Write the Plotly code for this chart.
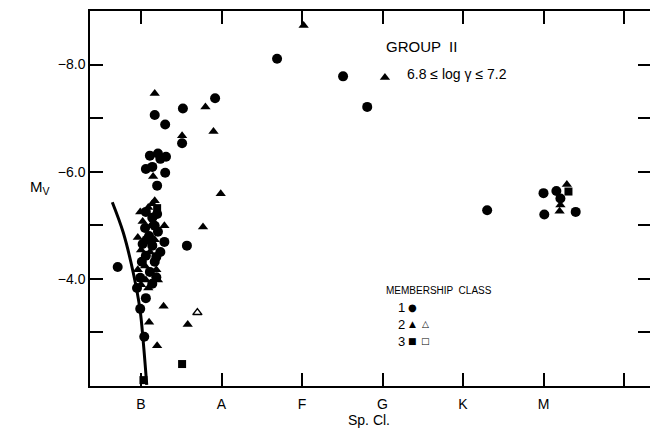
import plotly.graph_objects as go

# Spectral class positions on the x axis
classes = ["B", "A", "F", "G", "K", "M"]
class_pos = [1, 2, 3, 4, 5, 6]
extra_x_tick = [7]

# Membership class 1 (filled circles)
c1_x = [2.69, 3.51, 3.81, 1.92, 1.52, 1.17, 1.30, 1.51, 1.11, 1.21, 1.24, 1.31, 1.06, 1.14,
        1.30, 1.20, 1.29, 1.57, 0.71, 1.19, 1.19, 0.95, 1.06, 0.99, 1.04, 5.30, 6.00, 6.16,
        6.21, 6.01, 6.40,
        1.06, 1.14, 1.05, 1.17, 1.10, 1.21, 1.02, 1.14, 1.24, 1.06, 1.17, 1.11, 1.01, 0.99,
        1.14, 1.07, 1.20]
c1_y = [-8.11, -7.78, -7.21, -7.37, -7.18, -7.06, -6.88, -6.53, -6.30, -6.34, -6.24, -6.28,
        -6.05, -6.09, -5.98, -5.74, -4.69, -4.62, -4.22, -4.41, -4.03, -3.83, -3.64, -3.44,
        -2.92, -5.28, -5.60, -5.64, -5.50, -5.20, -5.25,
        -5.25, -5.14, -4.95, -4.99, -4.80, -4.88, -4.65, -4.62, -4.50, -4.43, -4.32, -4.13,
        -4.32, -4.02, -3.91, -4.73, -5.21]

# Membership class 2 (filled triangles)
c2_x = [3.02, 4.03, 1.17, 1.80, 1.51, 1.90, 1.15, 1.99, 1.17, 1.29, 1.77, 1.09, 1.28, 1.10,
        1.58, 1.20, 6.29, 6.21, 6.20,
        0.99, 1.09, 1.02, 1.12, 0.96, 1.17, 1.00, 1.11, 1.05, 0.96, 1.19, 1.06, 1.00, 1.21,
        1.14]
c2_y = [-8.73, -7.76, -7.46, -7.21, -6.67, -6.75, -5.91, -5.59, -5.46, -4.99, -4.97, -3.83,
        -3.49, -3.19, -3.15, -2.75, -5.76, -5.38, -5.26,
        -5.25, -5.33, -5.07, -4.99, -4.77, -4.73, -4.54, -4.50, -4.24, -4.17, -4.17, -3.98,
        -3.89, -3.98, -5.40]

# Membership class 2 (open triangles)
c2o_x = [1.70]
c2o_y = [-3.37]

# Membership class 3 (filled squares)
c3_x = [1.20, 1.51, 1.03, 6.31]
c3_y = [-5.32, -2.41, -2.11, -5.63]

# Main-sequence curve
ms_x = [0.643, 0.78, 0.904, 0.988, 1.029, 1.071]
ms_y = [-5.43, -4.86, -4.11, -3.42, -2.80, -2.02]

y_major = [-4, -6, -8]
y_major_text = ["\u22124.0", "\u22126.0", "\u22128.0"]
y_minor = [-3, -5, -7]
y_all = [-3, -4, -5, -6, -7, -8]

FONT = "Liberation Sans, Arial, sans-serif"

fig = go.Figure()
fig.add_trace(go.Scatter(x=ms_x, y=ms_y, mode="lines", line=dict(color="black", width=3, shape="spline"),
                         hoverinfo="skip"))
fig.add_trace(go.Scatter(x=c1_x, y=c1_y, mode="markers",
                         marker=dict(symbol="circle", size=10, color="black", line=dict(width=0))))
fig.add_trace(go.Scatter(x=c2_x, y=c2_y, mode="markers",
                         marker=dict(symbol="triangle-up", size=9, color="black", line=dict(width=0))))
fig.add_trace(go.Scatter(x=c2o_x, y=c2o_y, mode="markers",
                         marker=dict(symbol="triangle-up-open", size=8, color="black", line=dict(width=1.5))))
fig.add_trace(go.Scatter(x=c3_x, y=c3_y, mode="markers",
                         marker=dict(symbol="square", size=8, color="black", line=dict(width=0))))

# invisible trace to activate secondary axes
fig.add_trace(go.Scatter(x=[1], y=[-5], xaxis="x2", yaxis="y2", mode="markers",
                         marker=dict(opacity=0), hoverinfo="skip"))

xr = [0.366, 7.323]
yr = [-2.0, -9.0]

fig.update_layout(
    width=650, height=431,
    margin=dict(l=90, r=0, t=11, b=45),
    paper_bgcolor="white", plot_bgcolor="white",
    showlegend=False,
    font=dict(family=FONT, color="black", size=14),
    xaxis=dict(range=xr, tickvals=class_pos, ticktext=classes, ticks="inside", ticklen=13,
               tickwidth=1.5, tickcolor="black", showline=True, linecolor="black", linewidth=1.5,
               showgrid=False, zeroline=False, tickfont=dict(size=14, family=FONT),
               ticklabelstandoff=4,
               minor=dict(tickvals=extra_x_tick, ticks="inside", ticklen=13, tickwidth=1.5,
                          tickcolor="black", showgrid=False)),
    xaxis2=dict(range=xr, overlaying="x", side="top", tickvals=class_pos + extra_x_tick,
                ticks="inside", ticklen=13, tickwidth=1.5, tickcolor="black", showline=True,
                linecolor="black", linewidth=1.5, showticklabels=False, showgrid=False,
                zeroline=False),
    yaxis=dict(range=yr, tickvals=y_major, ticktext=y_major_text, ticks="inside", ticklen=13,
               tickwidth=1.5, tickcolor="black", showline=True, linecolor="black", linewidth=1.5,
               showgrid=False, zeroline=False, tickfont=dict(size=14, family=FONT),
               minor=dict(tickvals=y_minor, ticks="inside", ticklen=13, tickwidth=1.5,
                          tickcolor="black", showgrid=False)),
    yaxis2=dict(range=yr, overlaying="y", side="right", tickvals=y_all, ticks="inside",
                ticklen=12, tickwidth=1.5, tickcolor="black", showline=False,
                showticklabels=False, showgrid=False, zeroline=False),
)

ann = [
    dict(text="Sp. Cl.", x=369, y=420, size=14),
    dict(text="M<sub>V</sub>", x=40, y=187, size=15),
]
for a in ann:
    fig.add_annotation(text=a["text"], xref="paper", yref="paper",
                       x=(a["x"] - 90) / 560, y=(386 - a["y"]) / 375,
                       xanchor="center", yanchor="middle", showarrow=False,
                       font=dict(size=a["size"], family=FONT, color="black"))

left_ann = [
    dict(text="GROUP  II", x=384, y=47, size=15),
    dict(text="6.8 \u2264 log \u03b3 \u2264 7.2", x=405, y=74, size=14),
    dict(text="MEMBERSHIP  CLASS", x=384, y=291, size=10),
    dict(text="1", x=396, y=307, size=13),
    dict(text="2", x=396, y=324, size=13),
    dict(text="3", x=396, y=341, size=13),
]
for a in left_ann:
    fig.add_annotation(text=a["text"], xref="paper", yref="paper",
                       x=(a["x"] - 90) / 560, y=(386 - a["y"]) / 375,
                       xanchor="left", yanchor="middle", showarrow=False,
                       font=dict(size=a["size"], family=FONT, color="black"))

glyphs = [
    ("\u25cf", 412, 307, 10), ("\u25b2", 412, 324, 9), ("\u25b3", 425, 324, 9),
    ("\u25a0", 412, 341, 9), ("\u25a1", 425, 341, 9),
]
for g, gx, gy, gs in glyphs:
    fig.add_annotation(text=g, xref="paper", yref="paper",
                       x=(gx - 90) / 560, y=(386 - gy) / 375,
                       xanchor="center", yanchor="middle", showarrow=False,
                       font=dict(size=gs, family="DejaVu Sans", color="black"))

fig.write_html("out.html")
